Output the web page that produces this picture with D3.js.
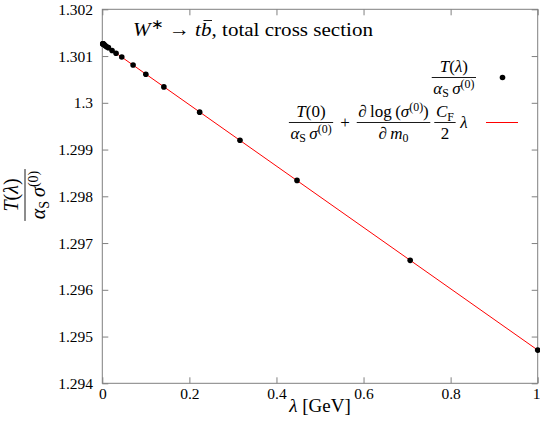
<!DOCTYPE html>
<html><head><meta charset="utf-8">
<script src="https://cdn.jsdelivr.net/npm/d3@7"></script>
<style>body{margin:0;background:#fff} svg{display:block}</style>
</head><body><svg id="c" width="540" height="425"></svg>
<script>
// ---- data ----
const lambdaValues = [1, 0.7071, 0.4472, 0.3162, 0.2236, 0.1414, 0.1, 0.0707, 0.0447, 0.0316, 0.0224, 0.0141, 0.01, 0.00707, 0.00447, 0.00316, 0.00224, 0.00141, 0.001];
const ratioValues  = [1.29471, 1.29663, 1.29834, 1.29920, 1.29980, 1.30034, 1.30061, 1.30081, 1.30098, 1.30106, 1.30112, 1.30118, 1.30120, 1.30122, 1.30124, 1.30125, 1.30126, 1.30126, 1.30126];
const fitLambda = [0, 1];
const fitValues = [1.30127, 1.29471];
const xTickValues = [0, 0.2, 0.4, 0.6, 0.8, 1];
const xTickLabels = ["0", "0.2", "0.4", "0.6", "0.8", "1"];
const yTickValues = [1.294, 1.295, 1.296, 1.297, 1.298, 1.299, 1.300, 1.301, 1.302];
const yTickLabels = ["1.294", "1.295", "1.296", "1.297", "1.298", "1.299", "1.3", "1.301", "1.302"];

const FONT = '"Liberation Serif"';
const svg = d3.select('#c');
const L = 102.3, R = 537.7, T = 9.3, B = 383.3;
const x = d3.scaleLinear().domain([0, 1]).range([L, R]);
const y = d3.scaleLinear().domain([1.294, 1.302]).range([B, T]);
const gray = '#808080';
const FS = 15.5;

function styleAxis(g) {
  g.attr('font-family', null).attr('font-size', FS);
  g.select('.domain').remove();
  g.selectAll('line').attr('stroke', gray);
  g.selectAll('text').attr('fill', '#000');
}
const xb = svg.append('g').attr('transform', `translate(0,${B})`)
  .call(d3.axisBottom(x).tickValues(xTickValues).tickFormat((d, i) => xTickLabels[i]).tickSizeInner(-6).tickSizeOuter(0).tickPadding(5))
  .call(styleAxis);
xb.selectAll('text').filter(d => d === 1).attr('dx', -1.5);
svg.append('g').attr('transform', `translate(0,${T})`)
  .call(d3.axisTop(x).tickValues(xTickValues).tickFormat('').tickSizeInner(-6).tickSizeOuter(0))
  .call(styleAxis);
svg.append('g').attr('transform', `translate(${L},0)`)
  .call(d3.axisLeft(y).tickValues(yTickValues).tickFormat((d, i) => yTickLabels[i]).tickSizeInner(-6).tickSizeOuter(0).tickPadding(9.3))
  .call(styleAxis);
svg.append('g').attr('transform', `translate(${R},0)`)
  .call(d3.axisRight(y).tickValues(yTickValues).tickFormat('').tickSizeInner(-6).tickSizeOuter(0))
  .call(styleAxis);
svg.append('rect').attr('x', L).attr('y', T).attr('width', R - L).attr('height', B - T)
  .attr('fill', 'none').attr('stroke', gray).attr('stroke-width', 1);

// fit line
const line = d3.line().x((d, i) => x(fitLambda[i])).y(d => y(d));
svg.append('path').datum(fitValues).attr('d', line).attr('fill', 'none').attr('stroke', '#ff0000').attr('stroke-width', 1);
// points
svg.append('g').selectAll('circle').data(lambdaValues).join('circle')
  .attr('cx', d => x(d)).attr('cy', (d, i) => y(ratioValues[i])).attr('r', 2.8).attr('fill', '#000');

// ---- rich text helpers ----
function newText(parent) { return parent.append('text').style('font-family', FONT); }
function rich(t, segs, size) {
  let shift = 0;
  segs.forEach(([s, st]) => {
    const sup = st.includes('p'), sub = st.includes('b');
    const ns = sup ? -0.34 * size : sub ? 0.22 * size : 0;
    t.append('tspan').text(s)
      .attr('font-style', st.includes('i') ? 'italic' : 'normal')
      .attr('font-size', (sup || sub) ? size * 0.7 : size)
      .attr('dy', ns - shift);
    shift = ns;
  });
  return t;
}
// fraction built around x=0, bar at y=0; returns group and width
function frac(parent, num, den, size, ng, dg) {
  const g = parent.append('g');
  const tn = rich(newText(g).attr('x', 0).attr('y', -ng).attr('text-anchor', 'middle').attr('font-size', size), num, size);
  const td = rich(newText(g).attr('x', 0).attr('y', dg).attr('text-anchor', 'middle').attr('font-size', size), den, size);
  const w = Math.max(tn.node().getBBox().width, td.node().getBBox().width) + 3;
  g.append('line').attr('x1', -w / 2).attr('x2', w / 2).attr('y1', 0).attr('y2', 0)
    .attr('stroke', '#000').attr('stroke-width', 0.9);
  return { g, w };
}
function plain(parent, segs, size) {
  const g = parent.append('g');
  const t = rich(newText(g).attr('x', 0).attr('y', 5.5).attr('text-anchor', 'middle').attr('font-size', size), segs, size);
  return { g, w: t.node().getBBox().width };
}
const Tlam = [['T', 'i'], ['(', ''], ['λ', 'i'], [')', '']];
const T0 = [['T', 'i'], ['(0)', '']];
const asig = [['α', 'i'], ['S', 'b'], ['\u2009', ''], ['σ', 'i'], ['(0)', 'p']];
const dlog = [['∂', ''], ['\u2009log\u2009(', ''], ['σ', 'i'], ['(0)', 'p'], [')', '']];
const dm0 = [['∂', ''], ['\u2009m', 'i'], ['0', 'b']];
const CF = [['C', 'i'], ['F', 'b']];

// axis tick labels in serif font
svg.selectAll('text').style('font-family', FONT);

// title
const titleSegs = [['W', 'i'], ['∗', 'p'], [' → ', ''], ['t', 'i'], ['b', 'i'], [', total cross section', '']];
const tt = rich(newText(svg).attr('x', 133).attr('y', 36).attr('font-size', 19.5)
  .attr('textLength', 240).attr('lengthAdjust', 'spacingAndGlyphs'), titleSegs, 19.5);
{
  const idx = titleSegs.slice(0, 4).reduce((a, s) => a + s[0].length, 0);
  const ext = tt.node().getExtentOfChar(idx);
  svg.append('line').attr('x1', ext.x + 2.5).attr('x2', ext.x + ext.width + 0.5)
    .attr('y1', ext.y + 1.5).attr('y2', ext.y + 1.5).attr('stroke', '#000').attr('stroke-width', 0.9);
}

// y axis title (rotated fraction)
const yt = svg.append('g').attr('transform', 'translate(25,195) rotate(-90)');
frac(yt, Tlam, asig, 20, 7, 20);

// x axis title
rich(newText(svg).attr('x', 320).attr('y', 412).attr('text-anchor', 'middle').attr('font-size', 19),
  [['λ', 'i'], [' [GeV]', '']], 19);

// legend entry 1
const LS = 17;
const e1 = frac(svg, Tlam, asig, LS, 5.5, 16);
e1.g.attr('transform', `translate(${476 - e1.w / 2},77.5)`);
svg.append('circle').attr('cx', 502.5).attr('cy', 77.5).attr('r', 2.8).attr('fill', '#000');

// legend entry 2 laid out right-to-left
const by = 122.5;
const items = [
  [frac(svg, T0, asig, LS, 5.5, 16), 0],
  [plain(svg, [['+', '']], LS), 7],
  [frac(svg, dlog, dm0, LS, 5.5, 16), 7],
  [frac(svg, CF, [['2', '']], LS, 5.5, 16), 4],
  [plain(svg, [['λ', 'i']], LS), 4]
];
let xr = 468;
for (let i = items.length - 1; i >= 0; i--) {
  const [it, gapBefore] = items[i];
  it.g.attr('transform', `translate(${xr - it.w / 2},${by})`);
  xr -= it.w + gapBefore;
}
svg.append('line').attr('x1', 486).attr('x2', 518).attr('y1', by).attr('y2', by).attr('stroke', '#ff0000').attr('stroke-width', 1);
</script>
</body></html>
